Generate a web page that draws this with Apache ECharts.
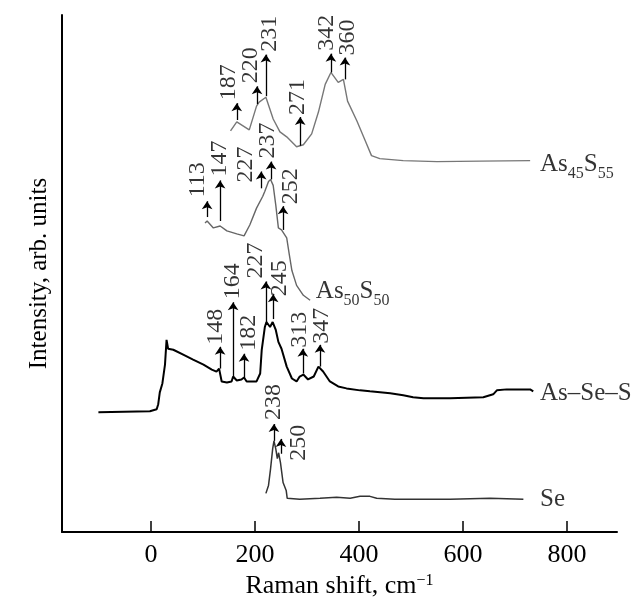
<!DOCTYPE html>
<html><head><meta charset="utf-8">
<script src="https://cdn.jsdelivr.net/npm/echarts@6/dist/echarts.min.js"></script>
<style>html,body{margin:0;padding:0;background:#fff}#c{width:637px;height:604px}</style>
</head><body><div id="c"></div>
<script>
const xTicks = [0, 200, 400, 600, 800];

const as45s55 = [[153,405],[165,414],[189,406],[203,430],[208,434],[221,439],[235,417],[248,404],[261,399],[280,389],[293,391],[309,402],[322,424],[335,452],[346,464],[360,454],[370,457],[378,435],[396,415],[412,395],[424,380],[440,377],[485,375],[550,374],[633,374.5],[729,375]];
const as50s50 = [[104,312],[108,314],[120,307],[133,309],[146,304],[165,301],[179,299],[190,310],[203,327],[215,339],[219,344],[226,354],[230,356],[235,350],[240,330],[245,307],[251,305],[261,297],[266,280],[271,264],[280,249],[293,239],[306,234]];
const asSeS = [[-101,121],[-2,122],[11,124],[14,129],[17,141],[20,142],[22,150],[25,150],[27,169],[30,194],[33,185],[43,184],[62,179],[81,174],[101,169],[117,164],[126,162],[131,165],[136,152],[146,151],[155,152],[158,157],[165,153],[174,154],[179,156],[184,152],[203,152],[210,160],[213,184],[219,207],[222,212],[229,207],[234,212],[240,204],[245,192],[251,185],[261,167],[271,155],[280,152],[286,157],[293,159],[302,154],[313,157],[322,167],[331,162],[344,152],[360,147],[376,145],[402,143],[421,142],[460,140],[485,138],[504,136],[524,135],[575,135],[639,136],[658,139],[665,143],[684,144],[729,144],[735,142]];
const se = [[221,39],[226,47],[230,64],[234,84],[236.5,92],[240,84],[243,74],[245.5,80],[249,70],[254,50],[260,42],[262,34],[286,33],[325,34],[357,35],[383,34],[402,36],[421,36],[434,34],[469,33],[575,33],[652,34],[716,33]];

// [label, arrow x, arrow from y, arrow to y, label x, label start y]
const peaks45 = [['187',165,416,433,150,436],['220',204,432,450,192,453],['231',221,440,482,229,485],['271',287,390,419,283,421],['342',346,464,483,338,486],['360',373,457,479,379,481]];
const peaks50 = [['113',108,318,334,90,338],['147',133,314,355,133,359],['227',212,347,364,183,353],['237',231,356,374,225,377],['252',254,305,329,269,331]];
const peaksSeS = [['148',133,165,187,125,189],['164',158,157,232,158,235],['182',179,156,180,188,183],['227',221,212,253,202,256],['245',235,215,240,248,238],['313',292,160,185,286,186],['347',325,167,189,329,190]];
const peaksSe = [['238',236.5,92,109,236.5,113],['250',250,79,94,285,72]];

const seriesNames = ['As{s|45}S{s|55}', 'As{s|50}S{s|50}', 'As–Se–S', 'Se'];
const nameSpots = [[748,371],[317,243],[748,140],[748,33]];

const FONT = 'Liberation Serif';

function curve(data, color, width) {
  return { type: 'line', data: data, symbol: 'none', silent: true, animation: false,
    lineStyle: { color: color, width: width }, z: 2 };
}
function arrows(peaks) {
  return { type: 'line', data: [], silent: true, animation: false,
    markLine: { silent: true, animation: false, symbol: ['none', 'arrow'], symbolSize: 8,
      lineStyle: { color: '#000', width: 1.3, type: 'solid' }, label: { show: false },
      emphasis: { disabled: true },
      data: peaks.map(p => [{ coord: [p[1], p[2]] }, { coord: [p[1], p[3]] }]) } };
}
function peakLabels(peaks) {
  return { type: 'scatter', symbolSize: 0, silent: true, animation: false, z: 5,
    data: peaks.map(p => ({ value: [p[4], p[5]], name: p[0] })),
    label: { show: true, formatter: '{b}', rotate: 90, position: [0, 0], align: 'left', verticalAlign: 'middle',
      fontSize: 24, fontFamily: FONT, color: '#000' } };
}

const chart = echarts.init(document.getElementById('c'));
chart.setOption({
  backgroundColor: '#fff',
  animation: false,
  grid: { left: 62, right: 20, top: 15, bottom: 67 },
  xAxis: {
    type: 'value', min: -171, max: 896,
    name: 'Raman shift, cm{sup|−1}', nameLocation: 'middle', nameGap: 41,
    nameTextStyle: { fontSize: 26, fontFamily: FONT, color: '#000',
      rich: { sup: { fontSize: 16, fontFamily: FONT, verticalAlign: 'top', lineHeight: 16, color: '#000' } } },
    axisLine: { show: true, lineStyle: { color: '#000', width: 2 } },
    axisTick: { show: true, inside: true, length: 11, customValues: xTicks, lineStyle: { color: '#000', width: 1.5 } },
    axisLabel: { show: true, customValues: xTicks, margin: 10, fontSize: 26, fontFamily: FONT, color: '#000' },
    splitLine: { show: false }
  },
  yAxis: {
    type: 'value', min: 0, max: 522,
    name: 'Intensity, arb. units', nameLocation: 'middle', nameGap: 10,
    nameTextStyle: { fontSize: 25, fontFamily: FONT, color: '#000' },
    axisLine: { show: true, onZero: false, lineStyle: { color: '#000', width: 2 } },
    axisTick: { show: false }, axisLabel: { show: false }, splitLine: { show: false }
  },
  series: [
    curve(as45s55, '#777', 1.4),
    curve(as50s50, '#666', 1.4),
    curve(asSeS, '#000', 2),
    curve(se, '#333', 1.5),
    arrows(peaks45), arrows(peaks50), arrows(peaksSeS), arrows(peaksSe),
    peakLabels(peaks45), peakLabels(peaks50), peakLabels(peaksSeS), peakLabels(peaksSe),
    { type: 'scatter', symbolSize: 0, silent: true, animation: false,
      data: nameSpots.map((v, i) => ({ value: v, name: seriesNames[i] })),
      label: { show: true, formatter: '{b}', position: [0, 0], align: 'left', verticalAlign: 'middle',
        fontSize: 25, fontFamily: FONT, color: '#000', lineHeight: 34,
        rich: { s: { fontSize: 16, fontFamily: FONT, lineHeight: 16, verticalAlign: 'bottom', color: '#000' } } } }
  ]
});
</script></body></html>
